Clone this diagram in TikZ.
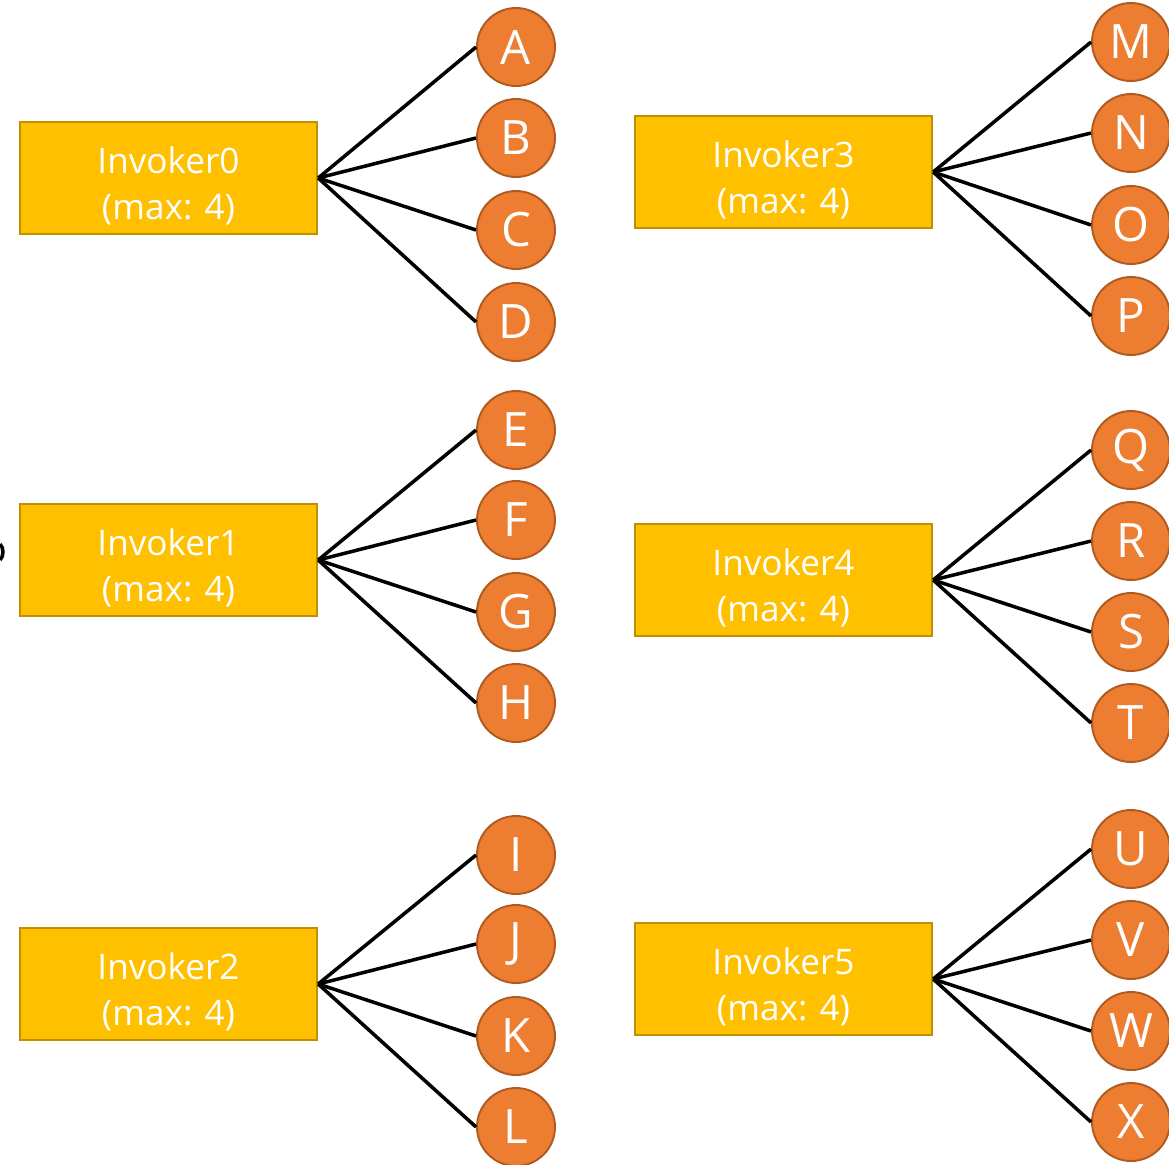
\documentclass[tikz,border=0pt]{standalone}
\usepackage{fontspec}
\setmainfont{Open Sans}
\usepackage{tikz}
\definecolor{invFill}{HTML}{FFC000}
\definecolor{invEdge}{HTML}{BF9000}
\definecolor{taskFill}{HTML}{ED7D31}
\definecolor{taskEdge}{HTML}{AE5A21}

\begin{document}
\begin{tikzpicture}[x=0.02cm, y=-0.02cm,
  invoker/.style={rectangle, fill=invFill, draw=invEdge, line width=1.4pt,
    minimum width=5.94cm, minimum height=2.24cm, inner ysep=2pt,
    align=center, text=white, font=\fontsize{20}{26}\selectfont},
  task/.style={circle, fill=taskFill, draw=taskEdge, line width=1.1pt,
    minimum size=1.56cm, inner sep=0pt, text=white,
    font=\fontsize{27}{30}\selectfont},
  link/.style={line width=2pt}]
  \useasboundingbox (0,0) rectangle (1169,1164);

  % invokers, two columns of three
  \foreach \n/\x/\y in {
    0/168.5/178,
    1/168.5/560,
    2/168.5/984,
    3/783.5/172,
    4/783.5/580,
    5/783.5/979}{
    \node[invoker] (inv\n) at (\x,\y) {\rule{0pt}{24pt}Invoker\n\\(max: 4)};
  }

  % four tasks fanned out from each invoker
  \foreach \t/\x/\y/\p in {
    A/516/47/0, B/516/138/0, C/516/230/0, D/516/322/0,
    E/516/430/1, F/516/520/1, G/516/612/1, H/516/703/1,
    I/516/855/2, J/516/944/2, K/516/1036/2, L/516/1127/2,
    M/1131/42/3, N/1131/133/3, O/1131/225/3, P/1131/316/3,
    Q/1131/450/4, R/1131/541/4, S/1131/632/4, T/1131/723/4,
    U/1131/849/5, V/1131/940/5, W/1131/1031/5, X/1131/1122/5}{
    \node[task] (task\t) at (\x,\y) {\t};
    \draw[link] (inv\p.east) -- (task\t.west);
  }

  % stray stroke on the left edge
  \draw[link] (0,544) .. controls (4,548) and (4,556) .. (0,560);
\end{tikzpicture}
\end{document}
